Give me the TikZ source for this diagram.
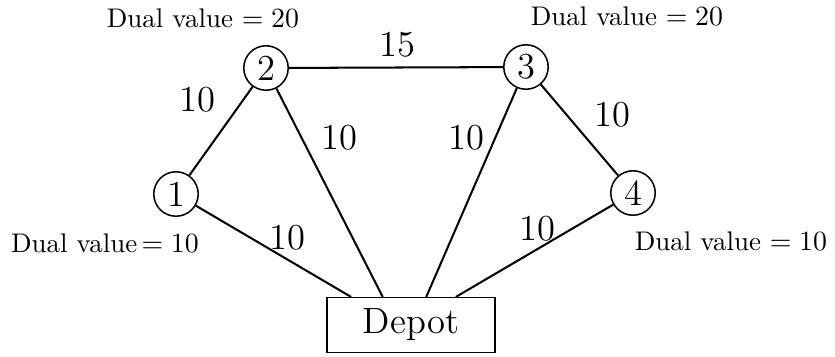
\documentclass[tikz,border=0pt]{standalone}
\usetikzlibrary{calc}
\begin{document}
\begin{tikzpicture}[x=0.3937pt,y=-0.3937pt,
  city/.style={circle,draw,semithick,minimum size=17.5pt,inner sep=0pt,font=\Large},
  depotbox/.style={rectangle,draw,semithick,minimum width=66pt,minimum height=21.5pt,inner sep=0pt,font=\Large},
  road/.style={thick},
  cost/.style={font=\Large,inner sep=0pt},
  dual/.style={font=\fontsize{10.6}{13}\selectfont,inner sep=0pt}]
\useasboundingbox (0,0) rectangle (835,356);
\node[city] (n1) at (176,194) {1};
\node[city] (n2) at (266,68) {2};
\node[city] (n3) at (526,67) {3};
\node[city] (n4) at (633,193) {4};
\node[depotbox] (dep) at (411,325) {Depot};
\coordinate (d1) at ($(dep.north west)!0.146!(dep.north east)$);
\coordinate (d2) at ($(dep.north west)!0.333!(dep.north east)$);
\coordinate (d3) at ($(dep.north west)!0.59!(dep.north east)$);
\coordinate (d4) at ($(dep.north west)!0.765!(dep.north east)$);
\draw[road] (n1) -- (n2);
\draw[road] (n2) -- (n3);
\draw[road] (n3) -- (n4);
\draw[road] (n1) -- (d1);
\draw[road] (n2) -- (d2);
\draw[road] (n3) -- (d3);
\draw[road] (n4) -- (d4);
\node[cost] (c12) at (197,100) {10};
\node[cost] (c23) at (397,45) {15};
\node[cost] (c34) at (612,115) {10};
\node[cost] (c2d) at (339,138) {10};
\node[cost] (c3d) at (466,138) {10};
\node[cost] (c1d) at (287,238) {10};
\node[cost] (c4d) at (537,229) {10};
\node[dual] (v2) at (203,18) {Dual value $= 20$};
\node[dual] (v3) at (627,16) {Dual value $= 20$};
\node[dual] (v1) at (105,243) {Dual value\,$= 10$};
\node[dual] (v4) at (731,241) {Dual value $= 10$};
\end{tikzpicture}
\end{document}
